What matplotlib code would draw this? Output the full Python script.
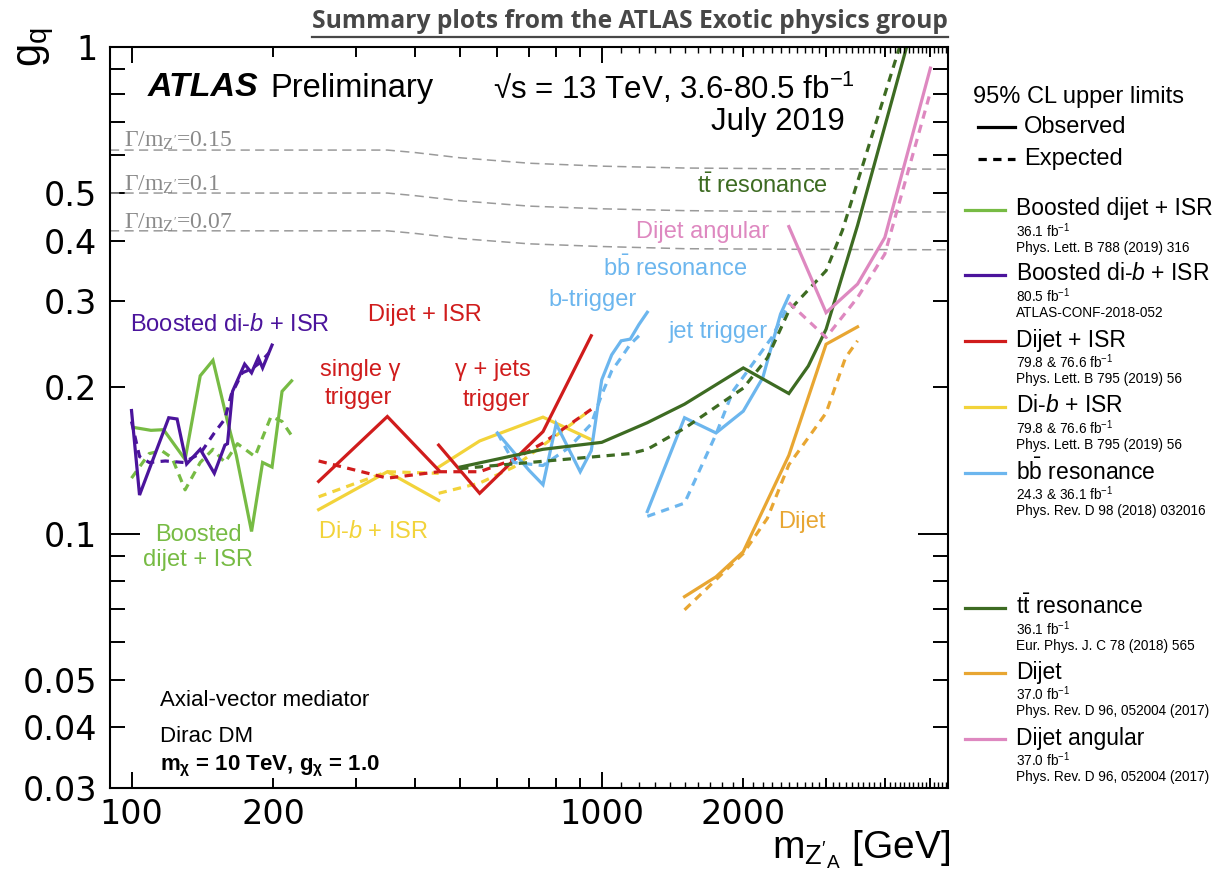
import matplotlib
matplotlib.use('Agg')
import matplotlib.pyplot as plt
from matplotlib.lines import Line2D

plt.rcParams['font.family'] = ['Liberation Sans', 'DejaVu Sans']
plt.rcParams['mathtext.fontset'] = 'custom'
plt.rcParams['mathtext.rm'] = 'Liberation Sans'
plt.rcParams['mathtext.it'] = 'Liberation Sans:italic'
plt.rcParams['mathtext.bf'] = 'Liberation Sans:bold'
plt.rcParams['mathtext.default'] = 'regular'

W, H = 1228, 883

# ---- data ----
# Boosted dijet + ISR
bdj_m_obs = [102, 110, 117, 130, 140, 149, 160, 167, 180, 190, 199, 209, 219]
bdj_g_obs = [0.165, 0.163, 0.1635, 0.142, 0.211, 0.227, 0.170, 0.145, 0.101, 0.140, 0.137, 0.196, 0.206]
bdj_m_exp = [100, 109, 116, 122, 130, 140, 149, 158, 168, 183, 198, 209, 219]
bdj_g_exp = [0.130, 0.146, 0.148, 0.143, 0.123, 0.140, 0.149, 0.140, 0.153, 0.144, 0.174, 0.170, 0.159]

# Boosted di-b + ISR
bdb_m_obs = [100, 104, 120, 125, 131, 140, 150, 158, 160, 164, 174, 180, 186, 190, 199]
bdb_g_obs = [0.179, 0.120, 0.173, 0.172, 0.139, 0.149, 0.133, 0.152, 0.153, 0.196, 0.223, 0.214, 0.230, 0.219, 0.244]
bdb_m_exp = [100, 104, 109, 118, 129, 140, 150, 158, 163, 172, 180, 187, 196]
bdb_g_exp = [0.170, 0.144, 0.140, 0.141, 0.140, 0.146, 0.161, 0.172, 0.193, 0.214, 0.218, 0.224, 0.235]

# Dijet + ISR (single photon trigger / photon + jets trigger)
dji1_m_obs = [250, 350, 450]
dji1_g_obs = [0.128, 0.174, 0.135]
dji1_m_exp = [250, 350, 450]
dji1_g_exp = [0.141, 0.130, 0.134]
dji2_m_obs = [450, 550, 750, 950]
dji2_g_obs = [0.152, 0.121, 0.162, 0.255]
dji2_m_exp = [450, 550, 650, 750, 950]
dji2_g_exp = [0.134, 0.134, 0.142, 0.1535, 0.180]

# Di-b + ISR
dbi1_m_obs = [250, 350, 450]
dbi1_g_obs = [0.112, 0.134, 0.117]
dbi1_m_exp = [250, 350, 450]
dbi1_g_exp = [0.119, 0.134, 0.133]
dbi2_m_obs = [450, 550, 600, 750, 950]
dbi2_g_obs = [0.137, 0.155, 0.160, 0.1735, 0.156]
dbi2_m_exp = [450, 550, 650, 950]
dbi2_g_exp = [0.121, 0.127, 0.137, 0.180]

# bb resonance (b-trigger / jet trigger)
bbb_m_obs = [600, 700, 750, 800, 900, 950, 1000, 1050, 1100, 1150, 1200, 1250]
bbb_g_obs = [0.161, 0.135, 0.126, 0.168, 0.134, 0.148, 0.207, 0.233, 0.249, 0.251, 0.269, 0.285]
bbb_m_exp = [600, 650, 750, 850, 950, 1000, 1050, 1100, 1150, 1200]
bbb_g_exp = [0.161, 0.140, 0.138, 0.150, 0.168, 0.193, 0.216, 0.230, 0.245, 0.255]
bbj_m_obs = [1250, 1500, 1750, 2000, 2200, 2400, 2500]
bbj_g_obs = [0.111, 0.173, 0.161, 0.1785, 0.209, 0.2825, 0.308]
bbj_m_exp = [1250, 1500, 1750, 1900, 2300, 2500]
bbj_g_exp = [0.1085, 0.1155, 0.160, 0.196, 0.253, 0.296]

# ttbar resonance
tt_m_obs = [500, 750, 1000, 1250, 1500, 2000, 2500, 2750, 3000, 3500, 4450]
tt_g_obs = [0.137, 0.149, 0.154, 0.169, 0.1845, 0.219, 0.194, 0.221, 0.263, 0.43, 1.0]
tt_m_exp = [500, 900, 1150, 1250, 1500, 2000, 2250, 2500, 3000, 3250, 4300]
tt_g_exp = [0.136, 0.143, 0.146, 0.149, 0.1646, 0.199, 0.2296, 0.287, 0.347, 0.42, 1.0]

# Dijet
dj_m_obs = [1500, 1750, 2000, 2500, 3000, 3500]
dj_g_obs = [0.0742, 0.0815, 0.0918, 0.1448, 0.245, 0.266]
dj_m_exp = [1500, 2000, 2250, 2500, 3000, 3300, 3500]
dj_g_exp = [0.0697, 0.091, 0.1075, 0.1385, 0.177, 0.23, 0.249]

# Dijet angular
dja_m_obs = [2500, 3000, 3500, 4000, 5000]
dja_g_obs = [0.4275, 0.2845, 0.3257, 0.406, 0.905]
dja_m_exp = [2500, 3000, 3500, 4000, 5000]
dja_g_exp = [0.2985, 0.253, 0.3056, 0.3755, 0.808]

# constant width lines
width_m = [90, 350, 400, 500, 700, 1000, 1500, 2500, 5450]
width_015 = [0.614, 0.614, 0.607, 0.592, 0.577, 0.569, 0.564, 0.562, 0.561]
width_010 = [0.501, 0.501, 0.495, 0.483, 0.471, 0.465, 0.461, 0.459, 0.458]
width_007 = [0.419, 0.419, 0.414, 0.404, 0.394, 0.389, 0.385, 0.384, 0.383]
width_labels = ['0.15', '0.1', '0.07']

x_major = [100, 1000]
x_minor = [200, 300, 400, 500, 600, 700, 800, 900, 2000, 3000, 4000, 5000]
x_fine = [m for m in range(1100, 5500, 100) if m % 1000 != 0]
y_major = [0.1, 1.0]
y_minor = [0.03, 0.04, 0.05, 0.06, 0.07, 0.08, 0.09, 0.2, 0.3, 0.4, 0.5, 0.6, 0.7, 0.8, 0.9]
y_minor_labels = ['0.03', '0.04', '0.05', '', '', '', '', '0.2', '0.3', '0.4', '0.5', '', '', '', '']

c_bdj = '#77bb44'
c_bdb = '#4b149c'
c_dji = '#d01c1c'
c_dbi = '#f2d33a'
c_bb = '#6cb6ee'
c_tt = '#3d6b22'
c_dj = '#e8a632'
c_dja = '#de88c0'

LW = 2.3
DASH = (2.6, 2.0)


def px(x, y):
    return x / W, 1 - y / H


def txt(x, y, s, **kw):
    kw.setdefault('va', 'center')
    return fig.text(*px(x, y), s, **kw)


fig = plt.figure(figsize=(W / 100, H / 100), dpi=100)
ax = fig.add_axes([110 / W, 1 - 788 / H, (948 - 110) / W, (788 - 47) / H])
ax.set_xscale('log')
ax.set_yscale('log')
ax.set_xlim(90, 5450)
ax.set_ylim(0.03, 1.0)

for wg in (width_015, width_010, width_007):
    ax.plot(width_m, wg, color='#9a9a9a', lw=1.1, dashes=(6, 3.5))


def draw(m_obs, g_obs, m_exp, g_exp, c):
    ax.plot(m_exp, g_exp, color=c, lw=LW, dashes=DASH)
    ax.plot(m_obs, g_obs, color=c, lw=LW, solid_joinstyle='miter')


draw(bdj_m_obs, bdj_g_obs, bdj_m_exp, bdj_g_exp, c_bdj)
draw(bdb_m_obs, bdb_g_obs, bdb_m_exp, bdb_g_exp, c_bdb)
draw(dbi1_m_obs, dbi1_g_obs, dbi1_m_exp, dbi1_g_exp, c_dbi)
draw(dbi2_m_obs, dbi2_g_obs, dbi2_m_exp, dbi2_g_exp, c_dbi)
draw(dji1_m_obs, dji1_g_obs, dji1_m_exp, dji1_g_exp, c_dji)
draw(dji2_m_obs, dji2_g_obs, dji2_m_exp, dji2_g_exp, c_dji)
draw(bbb_m_obs, bbb_g_obs, bbb_m_exp, bbb_g_exp, c_bb)
draw(bbj_m_obs, bbj_g_obs, bbj_m_exp, bbj_g_exp, c_bb)
draw(tt_m_obs, tt_g_obs, tt_m_exp, tt_g_exp, c_tt)
draw(dj_m_obs, dj_g_obs, dj_m_exp, dj_g_exp, c_dj)
draw(dja_m_obs, dja_g_obs, dja_m_exp, dja_g_exp, c_dja)

# axes / ticks, ROOT style
for sp in ax.spines.values():
    sp.set_linewidth(1.5)
ax.set_xticks(x_major, ['100', '1000'])
ax.set_xticks(x_minor, ['200', '', '', '', '', '', '', '', '2000', '', '', ''], minor=True)
ax.set_yticks(y_major, ['0.1', '1'])
ax.set_yticks(y_minor, y_minor_labels, minor=True)
ax.tick_params(which='both', direction='in', top=True, right=True, labelsize=24, width=1.4)
ax.tick_params(axis='x', which='major', length=11.5, pad=7)
ax.tick_params(axis='x', which='minor', length=7, pad=7)
ax.tick_params(axis='y', which='major', length=21.5, pad=9)
ax.tick_params(axis='y', which='minor', length=10.8, pad=9)
for lab in ax.get_xticklabels(which='both') + ax.get_yticklabels(which='both'):
    lab.set_family('DejaVu Sans')
tf = ax.get_xaxis_transform()
ax.vlines(x_fine, 0, 0.0075, transform=tf, color='k', lw=1.0)
ax.vlines(x_fine, 1 - 0.0075, 1, transform=tf, color='k', lw=1.0)

# width line labels
for y, lab in zip((141, 185, 223), width_labels):
    txt(124, y, "Γ/m$_{Z'}$=" + lab, color='#8a8a8a', fontsize=17, family='Liberation Serif')

# header texts
t = txt(948, 22, 'Summary plots from the ATLAS Exotic physics group', ha='right', fontsize=17.7,
        fontweight='bold', color='#474747', family=['Open Sans', 'DejaVu Sans'])
txt(148, 88, 'ATLAS', fontsize=24.5, fontweight='bold', style='italic')
txt(270, 88, 'Preliminary', fontsize=23.5)
txt(493, 88, '√s = 13 TeV, 3.6-80.5 fb$^{-1}$', fontsize=22.5)
txt(845, 122, 'July 2019', ha='right', fontsize=22.5)

# in-plot labels
txt(130, 325, r'Boosted di-$\it{b}$ + ISR', color=c_bdb, fontsize=17)
txt(368, 315, 'Dijet + ISR', color=c_dji, fontsize=17)
txt(320, 370, 'single γ', color=c_dji, fontsize=17)
txt(325, 398, 'trigger', color=c_dji, fontsize=17)
txt(455, 370, 'γ + jets', color=c_dji, fontsize=17)
txt(463, 400, 'trigger', color=c_dji, fontsize=17)
txt(548, 300, 'b-trigger', color=c_bb, fontsize=17)
txt(603, 268, r'b$\bar{b}$ resonance', color=c_bb, fontsize=17)
txt(668, 332, 'jet trigger', color=c_bb, fontsize=17)
txt(697, 186, r't$\bar{t}$ resonance', color=c_tt, fontsize=17)
txt(636, 232, 'Dijet angular', color=c_dja, fontsize=17)
txt(778, 522, 'Dijet', color=c_dj, fontsize=17)
txt(318, 532, r'Di-$\it{b}$ + ISR', color=c_dbi, fontsize=17)
txt(198, 535, 'Boosted', color=c_bdj, fontsize=17, ha='center')
txt(198, 560, 'dijet + ISR', color=c_bdj, fontsize=17, ha='center')

txt(160, 700, 'Axial-vector mediator', fontsize=16)
txt(160, 737, 'Dirac DM', fontsize=16)
txt(160, 766, 'm$_{χ}$ = 10 TeV, g$_{χ}$ = 1.0', fontsize=16, fontweight='bold')

# axis titles
txt(36, 47, 'g$_{q}$', fontsize=30, rotation=90, ha='center')
txt(950, 850, "m$_{Z'_{A}}$ [GeV]", fontsize=28, ha='right')

# legend (drawn by hand, ROOT style)
txt(973, 97, '95% CL upper limits', fontsize=17)
fig.add_artist(Line2D([978 / W, 1015 / W], [1 - 127 / H] * 2, color='k', lw=LW))
txt(1024, 127, 'Observed', fontsize=17)
fig.add_artist(Line2D([978 / W, 1015 / W], [1 - 159 / H] * 2, color='k', lw=LW, dashes=DASH))
txt(1024, 159, 'Expected', fontsize=17)

entries = [
    ('Boosted dijet + ISR', c_bdj, 210, '36.1 fb$^{-1}$', 'Phys. Lett. B 788 (2019) 316'),
    (r'Boosted di-$\it{b}$ + ISR', c_bdb, 275, '80.5 fb$^{-1}$', 'ATLAS-CONF-2018-052'),
    ('Dijet + ISR', c_dji, 341, '79.8 & 76.6 fb$^{-1}$', 'Phys. Lett. B 795 (2019) 56'),
    (r'Di-$\it{b}$ + ISR', c_dbi, 407, '79.8 & 76.6 fb$^{-1}$', 'Phys. Lett. B 795 (2019) 56'),
    (r'b$\bar{b}$ resonance', c_bb, 473, '24.3 & 36.1 fb$^{-1}$', 'Phys. Rev. D 98 (2018) 032016'),
    (r't$\bar{t}$ resonance', c_tt, 608, '36.1 fb$^{-1}$', 'Eur. Phys. J. C 78 (2018) 565'),
    ('Dijet', c_dj, 673, '37.0 fb$^{-1}$', 'Phys. Rev. D 96, 052004 (2017)'),
    ('Dijet angular', c_dja, 739, '37.0 fb$^{-1}$', 'Phys. Rev. D 96, 052004 (2017)'),
]
for name, c, y, lumi, ref in entries:
    fig.add_artist(Line2D([965 / W, 1005 / W], [1 - y / H] * 2, color=c, lw=LW))
    txt(1016, y - 1, name, fontsize=16.5)
    txt(1016, y + 21, lumi, fontsize=9.8)
    txt(1016, y + 38, ref, fontsize=9.8)

# underline of the title
fig.canvas.draw()
bb = t.get_window_extent()
fig.add_artist(Line2D([bb.x0 / W, bb.x1 / W], [1 - 37 / H] * 2, color='#474747', lw=1.6))

fig.savefig('out.png', dpi=100)
